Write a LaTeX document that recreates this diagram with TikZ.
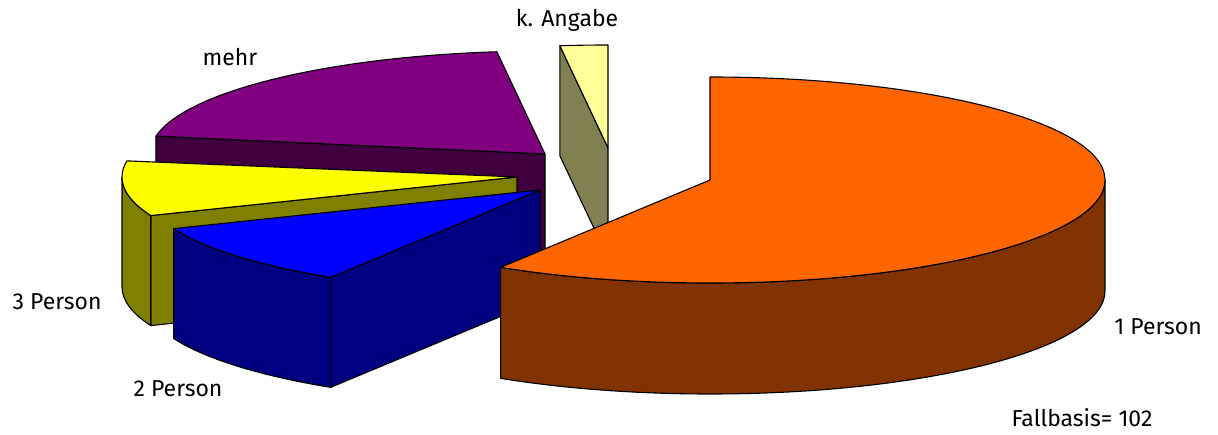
\documentclass[tikz,border=0pt]{standalone}
\usepackage{fontspec}
\setmainfont{Fira Sans}
\definecolor{einstop}{HTML}{FF6600}
\definecolor{einsside}{HTML}{803300}
\definecolor{zweitop}{HTML}{0000FF}
\definecolor{zweiside}{HTML}{000080}
\definecolor{dreitop}{HTML}{FFFF00}
\definecolor{dreiside}{HTML}{808000}
\definecolor{mehrtop}{HTML}{800080}
\definecolor{mehrside}{HTML}{400040}
\definecolor{angtop}{HTML}{FFFF99}
\definecolor{angside}{HTML}{808050}
\begin{document}
\begin{tikzpicture}[x=1pt,y=1pt,
	face/.style={draw=black,line width=1.1pt,line join=round},
	lbl/.style={font=\fontsize{23}{27}\selectfont,inner sep=0pt},
	rim/.style={x radius=395,y radius=103}]
	\useasboundingbox (0,0) rectangle (1218,434);
	
	% mehr
	\begin{scope}[shift={(545,280)}]
		\draw[face,fill=mehrside] (0,0) -- (170:395 and 103) -- ++(0,-110) -- (0,-110) -- cycle;
		\draw[face,fill=mehrtop] (0,0) -- (97:395 and 103) arc[rim,start angle=97,end angle=170] -- cycle;
	\end{scope}
	
	% k. Angabe
	\begin{scope}[shift={(608,286)}]
		\draw[face,fill=angside] (0,0) -- (97:395 and 103) -- ++(0,-110) -- (0,-110) -- cycle;
		\draw[face,fill=angtop] (0,0) -- (90:395 and 103) arc[rim,start angle=90,end angle=97] -- cycle;
	\end{scope}
	
	% 3 Person
	\begin{scope}[shift={(517,257)}]
		\draw[face,fill=dreiside] (0,0) -- (202:395 and 103) -- ++(0,-110) -- (0,-110) -- cycle;
		\draw[face,fill=dreiside] (180:395 and 103) arc[rim,start angle=180,end angle=202] -- ++(0,-110) arc[rim,start angle=202,end angle=180] -- cycle;
		\draw[face,fill=dreitop] (0,0) -- (171:395 and 103) arc[rim,start angle=171,end angle=202] -- cycle;
	\end{scope}
	
	% 2 Person
	\begin{scope}[shift={(540,244)}]
		\draw[face,fill=zweiside] (0,0) -- (238:395 and 103) -- ++(0,-110) -- (0,-110) -- cycle;
		\draw[face,fill=zweiside] (202:395 and 103) arc[rim,start angle=202,end angle=238] -- ++(0,-110) arc[rim,start angle=238,end angle=202] -- cycle;
		\draw[face,fill=zweitop] (0,0) -- (202:395 and 103) arc[rim,start angle=202,end angle=238] -- cycle;
	\end{scope}
	
	% 1 Person
	\begin{scope}[shift={(710,254)}]
		\draw[face,fill=einsside] (238:395 and 103) arc[rim,start angle=238,end angle=360] -- ++(0,-111) arc[rim,start angle=360,end angle=238] -- cycle;
		\draw[face,fill=einstop] (0,0) -- (90:395 and 103) arc[rim,start angle=90,end angle=-122] -- cycle;
	\end{scope}
	
	\node[lbl] (angLbl) at (567,414) {k. Angabe};
	\node[lbl] (mehrLbl) at (230,377) {mehr};
	\node[lbl] (dreiLbl) at (57,132) {3 Person};
	\node[lbl] (zweiLbl) at (178,45) {2 Person};
	\node[lbl] (einsLbl) at (1158,107) {1 Person};
	\node[lbl] (fallLbl) at (1082,16) {Fallbasis=\ 102};
\end{tikzpicture}
\end{document}
